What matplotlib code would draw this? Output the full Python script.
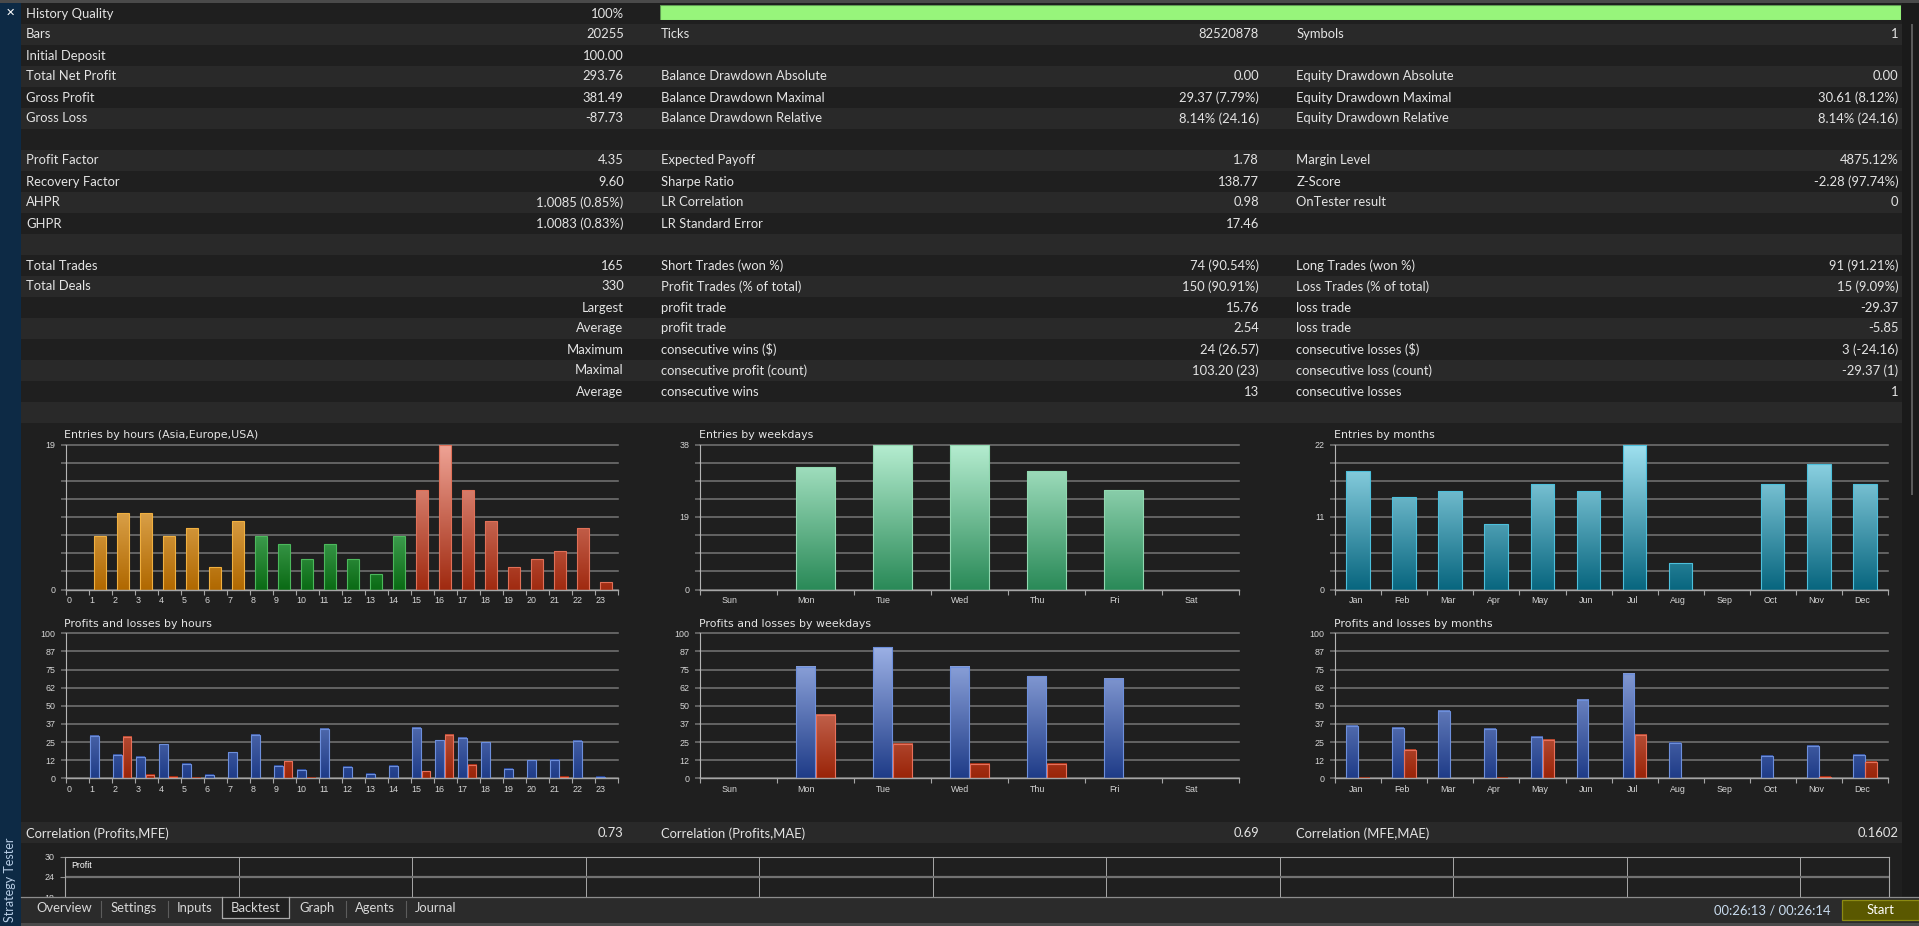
import numpy as np
import matplotlib
matplotlib.use('Agg')
import matplotlib.pyplot as plt
from matplotlib.patches import Rectangle
from matplotlib import font_manager
from matplotlib.colors import to_rgb

W, H = 1919, 926

# ---------------- data ----------------
history_quality = 100

col1 = [("History Quality", "100%"), ("Bars", "20255"), ("Initial Deposit", "100.00"),
        ("Total Net Profit", "293.76"), ("Gross Profit", "381.49"), ("Gross Loss", "-87.73"),
        ("", ""), ("Profit Factor", "4.35"), ("Recovery Factor", "9.60"),
        ("AHPR", "1.0085 (0.85%)"), ("GHPR", "1.0083 (0.83%)"), ("", ""),
        ("Total Trades", "165"), ("Total Deals", "330"), ("", "Largest"), ("", "Average"),
        ("", "Maximum"), ("", "Maximal"), ("", "Average"), ("", "")]
col2 = [("", ""), ("Ticks", "82520878"), ("", ""),
        ("Balance Drawdown Absolute", "0.00"), ("Balance Drawdown Maximal", "29.37 (7.79%)"),
        ("Balance Drawdown Relative", "8.14% (24.16)"), ("", ""),
        ("Expected Payoff", "1.78"), ("Sharpe Ratio", "138.77"), ("LR Correlation", "0.98"),
        ("LR Standard Error", "17.46"), ("", ""),
        ("Short Trades (won %)", "74 (90.54%)"), ("Profit Trades (% of total)", "150 (90.91%)"),
        ("profit trade", "15.76"), ("profit trade", "2.54"),
        ("consecutive wins ($)", "24 (26.57)"), ("consecutive profit (count)", "103.20 (23)"),
        ("consecutive wins", "13"), ("", "")]
col3 = [("", ""), ("Symbols", "1"), ("", ""),
        ("Equity Drawdown Absolute", "0.00"), ("Equity Drawdown Maximal", "30.61 (8.12%)"),
        ("Equity Drawdown Relative", "8.14% (24.16)"), ("", ""),
        ("Margin Level", "4875.12%"), ("Z-Score", "-2.28 (97.74%)"), ("OnTester result", "0"),
        ("", ""), ("", ""),
        ("Long Trades (won %)", "91 (91.21%)"), ("Loss Trades (% of total)", "15 (9.09%)"),
        ("loss trade", "-29.37"), ("loss trade", "-5.85"),
        ("consecutive losses ($)", "3 (-24.16)"), ("consecutive loss (count)", "-29.37 (1)"),
        ("consecutive losses", "1"), ("", "")]

correlations = [("Correlation (Profits,MFE)", "0.73"), ("Correlation (Profits,MAE)", "0.69"),
                ("Correlation (MFE,MAE)", "0.1602")]

hours = [str(h) for h in range(24)]
hour_entries = [0, 7, 10, 10, 7, 8, 3, 9, 7, 6, 4, 6, 4, 2, 7, 13, 19, 13, 9, 3, 4, 5, 8, 1]
hour_profit = [0, 29.0, 16.1, 14.7, 23.4, 9.7, 2.5, 17.9, 29.7, 8.3, 6.0, 33.8, 7.8, 3.2,
               8.5, 34.5, 26.2, 28.0, 24.8, 6.4, 12.4, 12.9, 26.0, 0.7]
hour_loss = [0, 0, 28.3, 2.3, 0.7, 0.5, 0, 0, 0, 11.7, 0.2, 0, 0, 0,
             0, 4.8, 29.7, 9.0, 0, 0, 0, 0.9, 0, 0]
asia_hours = range(0, 8)
europe_hours = range(8, 15)
usa_hours = range(15, 24)

weekdays = ["Sun", "Mon", "Tue", "Wed", "Thu", "Fri", "Sat"]
weekday_entries = [0, 32, 38, 38, 31, 26, 0]
weekday_profit = [0, 76.6, 90.3, 76.6, 70.3, 68.3, 0]
weekday_loss = [0, 43.9, 23.7, 10.1, 10.1, 0, 0]

months = ["Jan", "Feb", "Mar", "Apr", "May", "Jun", "Jul", "Aug", "Sep", "Oct", "Nov", "Dec"]
month_entries = [18, 14, 15, 10, 16, 15, 22, 4, 0, 16, 19, 16]
month_profit = [36.1, 34.5, 46.7, 33.8, 28.3, 53.8, 72.2, 24.4, 0, 15.2, 22.3, 15.9]
month_loss = [0.3, 19.8, 0, 0.3, 26.4, 0, 29.9, 0, 0, 0, 1.1, 11.3]

pl_labels = ["0", "12", "25", "37", "50", "62", "75", "87", "100"]

tabs = ["Overview", "Settings", "Inputs", "Backtest", "Graph", "Agents", "Journal"]
tab_x = [64.3, 134, 194.3, 255.3, 317, 375, 435.7]

# ---------------- fonts / colours ----------------
names = {f.name for f in font_manager.fontManager.ttflist}


def pick(*cands):
    for c in cands:
        if c in names:
            return c
    return "DejaVu Sans"


UI = pick("Lato", "Open Sans", "Noto Sans")
SMALL = pick("Liberation Sans", "Arial")
plt.rcParams["font.family"] = [SMALL, "DejaVu Sans"]

DARK = "#1f1f1f"
LIGHT = "#292929"
TXT = "#e4e4e4"
TICK_FS = 6.4
TITLE_FS = 7.9

fig = plt.figure(figsize=(W / 100, H / 100), dpi=100)
fig.patch.set_facecolor(DARK)


def px_axes(x0, y0, x1, y1):
    return fig.add_axes([x0 / W, 1 - y1 / H, (x1 - x0) / W, (y1 - y0) / H])


# ---------------- background + table ----------------
bg = px_axes(0, 0, W, H)
bg.set_xlim(0, W)
bg.set_ylim(H, 0)
bg.axis("off")

bg.add_patch(Rectangle((0, 0), W, H, fc=DARK, ec="none"))
row_h = 21.0
row0 = 2.5
for i in range(20):
    c = DARK if i % 2 == 0 else LIGHT
    bg.add_patch(Rectangle((21, row0 + i * row_h), 1881, row_h, fc=c, ec="none"))
bg.add_patch(Rectangle((21, 822), 1881, 20.5, fc=LIGHT, ec="none"))
bg.add_patch(Rectangle((1902, 3), 17, 894, fc="#1a1a1a", ec="none"))
bg.add_patch(Rectangle((1910.5, 24), 2, 471, fc="#5a5a5a", ec="none"))
bg.add_patch(Rectangle((0, 0), W, 3, fc="#4a4a4a", ec="none"))
bg.add_patch(Rectangle((0, 3), 21, H, fc="#0d2a45", ec="none"))
bg.text(10.7, 12.5, "✕", color="white", fontsize=8, family="DejaVu Sans",
        ha="center", va="center", fontweight="bold")

cols = [(col1, 25.9, 623.7), (col2, 661.2, 1258.9), (col3, 1296.2, 1898.5)]
for data, lx, rx in cols:
    for i, (lab, val) in enumerate(data):
        yc = row0 + i * row_h + 11
        if lab:
            bg.text(lx, yc, lab, color=TXT, fontsize=9.4, family=UI, ha="left", va="center")
        if val:
            bg.text(rx, yc, val, color=TXT, fontsize=9.4, family=UI, ha="right", va="center")

for (lab, val), (lx, rx) in zip(correlations, [(25.9, 623.7), (661.2, 1258.9), (1296.2, 1898.5)]):
    bg.text(lx, 833.3, lab, color=TXT, fontsize=9.4, family=UI, ha="left", va="center")
    bg.text(rx, 833.3, val, color=TXT, fontsize=9.4, family=UI, ha="right", va="center")

# history quality bar
hq = px_axes(660.3, 4.7, 1900.7, 20)
hq.barh([0], [history_quality], height=1, left=0, color="#97f57b", edgecolor="#5f9a52", lw=0.8)
hq.set_xlim(0, 100)
hq.set_ylim(-0.5, 0.5)
hq.axis("off")


# ---------------- bar charts ----------------
def grad_bars(ax, xs, vals, width, bottom_c, top_c, edge_c, ymax):
    b = np.array(to_rgb(bottom_c))
    t = np.array(to_rgb(top_c))
    keep = [(x, v) for x, v in zip(xs, vals) if v > 0]
    for x, v in keep:
        f = np.linspace(v / ymax, 0, 64)[:, None, None]
        img = b + (t - b) * f
        ax.imshow(img, extent=(x, x + width, 0, v), aspect="auto",
                  interpolation="bilinear", zorder=2)
    if keep:
        kx, kv = zip(*keep)
        ax.bar(kx, kv, width=width, align="edge", fill=False,
               edgecolor=edge_c, linewidth=0.8, zorder=3)


def style_chart(ax, n, ymax, ylabels, title, cats, lab_off, lab_ha):
    ax.set_facecolor("none")
    ax.set_xlim(0, n)
    ax.set_ylim(0, ymax)
    for s in ["top", "right"]:
        ax.spines[s].set_visible(False)
    ax.spines["left"].set_color("#b4b4b4")
    ax.spines["left"].set_linewidth(0.8)
    ax.spines["bottom"].set_color("#a6a6a6")
    ax.spines["bottom"].set_linewidth(1.0)
    ax.set_yticks(np.linspace(0, ymax, 9))
    ax.set_yticklabels(ylabels)
    ax.grid(axis="y", color="#737373", lw=1.15, zorder=1)
    for gl in ax.get_ygridlines():
        gl.set_clip_on(False)
    ax.tick_params(axis="y", length=3.6, width=1.1, color="#737373", pad=4.2,
                   labelsize=TICK_FS, labelcolor="#d6d6d6")
    ax.set_xticks(range(n + 1))
    ax.set_xticklabels([])
    ax.tick_params(axis="x", length=3.6, width=0.8, color="#a6a6a6")
    wpx = ax.get_position().width * W
    ax.text(-1.5 / wpx, 1 + 9.5 / 145, title, transform=ax.transAxes, color=TXT,
            fontsize=TITLE_FS, family="DejaVu Sans", ha="left", va="center")
    tr = ax.get_xaxis_transform()
    for i, c in enumerate(cats):
        ax.text(i + lab_off, -11 / 145, c, transform=tr, color="#d6d6d6",
                fontsize=TICK_FS, ha=lab_ha, va="center")


def only(labels_at, n=9):
    out = [""] * n
    for k, v in labels_at.items():
        out[k] = v
    return out


Y1, Y2 = 444.5, 589.5
Y3, Y4 = 633.3, 778.3
HX = (66, 618)
DX = (700.4, 1239.2)
MX = (1335.1, 1888.2)

# entries by hours
ax = px_axes(HX[0], Y1, HX[1], Y2)
sessions = [(asia_hours, "#b06800", "#fdd086", "#f0b040"),
            (europe_hours, "#0a6a14", "#91ecab", "#4cb85c"),
            (usa_hours, "#a02a10", "#eea294", "#e07058")]
ymax = max(hour_entries)
for rng, cb, ct, ce in sessions:
    grad_bars(ax, [h + 0.22 for h in rng], [hour_entries[h] for h in rng], 0.5, cb, ct, ce, ymax)
style_chart(ax, 24, ymax, only({0: "0", 8: str(ymax)}), "Entries by hours (Asia,Europe,USA)",
            hours, 0.03, "left")

# profits and losses by hours
ax = px_axes(HX[0], Y3, HX[1], Y4)
idx = np.arange(24)
grad_bars(ax, idx + 0.065, hour_profit, 0.38, "#1f3c88", "#a8bcee", "#6d8fdc", 100)
grad_bars(ax, idx + 0.48, hour_loss, 0.36, "#9a2408", "#f0ac9e", "#e8705a", 100)
style_chart(ax, 24, 100, pl_labels, "Profits and losses by hours", hours, 0.03, "left")

# entries by weekdays
ax = px_axes(DX[0], Y1, DX[1], Y2)
ymax = max(weekday_entries)
grad_bars(ax, np.arange(7) + 0.245, weekday_entries, 0.5, "#2a8a58", "#b4eccf", "#90d8b0", ymax)
style_chart(ax, 7, ymax, only({0: "0", 4: str(ymax // 2), 8: str(ymax)}), "Entries by weekdays",
            weekdays, 0.377, "center")

# profits and losses by weekdays
ax = px_axes(DX[0], Y3, DX[1], Y4)
grad_bars(ax, np.arange(7) + 0.245, weekday_profit, 0.25, "#1f3c88", "#a8bcee", "#6d8fdc", 100)
grad_bars(ax, np.arange(7) + 0.5, weekday_loss, 0.25, "#9a2408", "#f0ac9e", "#e8705a", 100)
style_chart(ax, 7, 100, pl_labels, "Profits and losses by weekdays", weekdays, 0.377, "center")

# entries by months
ax = px_axes(MX[0], Y1, MX[1], Y2)
ymax = max(month_entries)
grad_bars(ax, np.arange(12) + 0.24, month_entries, 0.51, "#08667f", "#9ee0ef", "#4cc0dc", ymax)
style_chart(ax, 12, ymax, only({0: "0", 4: str(ymax // 2), 8: str(ymax)}), "Entries by months",
            months, 0.445, "center")

# profits and losses by months
ax = px_axes(MX[0], Y3, MX[1], Y4)
grad_bars(ax, np.arange(12) + 0.24, month_profit, 0.255, "#1f3c88", "#a8bcee", "#6d8fdc", 100)
grad_bars(ax, np.arange(12) + 0.5, month_loss, 0.255, "#9a2408", "#f0ac9e", "#e8705a", 100)
style_chart(ax, 12, 100, pl_labels, "Profits and losses by months", months, 0.445, "center")

# ---------------- profit graph (cut off by the tab bar) ----------------
pg = px_axes(65, 856.7, 1889, 918)
pg.set_facecolor("none")
pg.set_ylim(30 - 61.3 / 20.3 * 6, 30)
pg.set_xlim(0, 1824 / 173.5)
pg.spines["bottom"].set_visible(False)
for s in ["top", "left", "right"]:
    pg.spines[s].set_color("#a8a8a8")
    pg.spines[s].set_linewidth(0.8)
pg.set_yticks([30, 24, 18])
pg.set_yticklabels(["30", "24", "18"])
pg.tick_params(axis="y", length=3.6, color="#8a8a8a", pad=4.2, labelsize=TICK_FS,
               labelcolor="#d6d6d6")
pg.set_xticks(range(1, 11))
pg.set_xticklabels([])
pg.tick_params(axis="x", length=0)
pg.grid(axis="x", color="#a8a8a8", lw=0.7)
pg.axhline(24, color="#727272", lw=1.6)
pg.text(6.7 / 1824, 1 - 9 / 61.3, "Profit", transform=pg.transAxes, color="white",
        fontsize=6.3, ha="left", va="center")

# ---------------- tab bar overlay ----------------
ov = px_axes(0, 0, W, H)
ov.set_xlim(0, W)
ov.set_ylim(H, 0)
ov.axis("off")
ov.add_patch(Rectangle((21, 897), W - 21, 26.5, fc="#2b2b2b", ec="none"))
ov.plot([21, W], [897, 897], color="#8c8c8c", lw=0.9)
ov.add_patch(Rectangle((0, 923.3), W, 3, fc="#4a4a4a", ec="none"))
ov.add_patch(Rectangle((222.3, 897.5), 66.4, 20.8, fc=DARK, ec="none"))
ov.plot([222.3, 222.3, 288.7, 288.7], [897, 918.3, 918.3, 897], color="#a8a8a8", lw=0.9)
for sx in [101, 167.7, 345.7, 405.7]:
    ov.plot([sx, sx], [900.7, 917], color="#5c5c5c", lw=0.8)
for t, x in zip(tabs, tab_x):
    ov.text(x, 908.5, t, color="#d8d8d8", fontsize=9.4, family=UI, ha="center", va="center")
ov.text(1830, 910.8, "00:26:13 / 00:26:14", color="#c9dcef", fontsize=9.4, family=UI,
        ha="right", va="center")
ov.add_patch(Rectangle((1842.3, 900), W - 1842.3, 20, fc="#5a5800", ec="#8c8a12", lw=0.9))
ov.text(1880.7, 910.3, "Start", color="white", fontsize=9.4, family=UI, ha="center", va="center")
ov.add_patch(Rectangle((0, 843), 21, 83, fc="#0d2a45", ec="none"))
ov.text(10.5, 880, "Strategy Tester", color="#b8cee6", fontsize=9, family=UI,
        rotation=90, ha="center", va="center")

fig.savefig("out.png", dpi=100, facecolor=fig.get_facecolor())
